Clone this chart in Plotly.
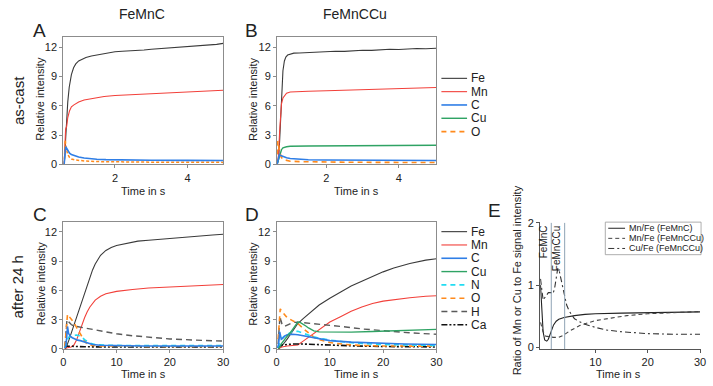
import plotly.graph_objects as go

W, H = 713, 386
def X(p): return p / W
def Y(p): return 1 - p / H

# ---------------- data ----------------
# Panel A: FeMnC as-cast
a_fe_t = [0.60,0.62,0.64,0.67,0.70,0.74,0.80,0.86,0.92,1.00,1.10,1.20,1.35,1.50,1.65,1.80,2.00,2.20,2.40,2.60,2.80,3.00,3.20,3.40,3.60,3.80,4.00,4.20,4.40,4.60,4.80,4.98]
a_fe   = [0.0,0.8,2.5,4.8,6.4,7.9,9.2,9.9,10.3,10.6,10.8,10.95,11.1,11.2,11.35,11.4,11.55,11.6,11.62,11.7,11.72,11.8,11.85,11.9,12.0,12.02,12.1,12.15,12.2,12.25,12.3,12.4]
a_mn_t = [0.60,0.62,0.64,0.67,0.70,0.75,0.80,0.87,0.95,1.00,1.15,1.30,1.45,1.70,2.00,2.50,3.00,3.50,4.00,4.50,4.98]
a_mn   = [0.0,1.5,3.6,3.9,4.8,5.5,5.9,6.1,6.3,6.4,6.6,6.7,6.8,6.95,7.05,7.15,7.2,7.3,7.4,7.5,7.6]
a_c_t  = [0.60,0.62,0.64,0.66,0.70,0.75,0.80,0.90,1.00,1.15,1.30,1.50,1.75,2.00,2.50,3.00,4.00,4.98]
a_c    = [0.0,1.2,1.8,1.7,1.4,1.15,1.0,0.85,0.75,0.65,0.58,0.52,0.48,0.46,0.44,0.42,0.41,0.40]
a_o_t  = [0.60,0.61,0.63,0.66,0.70,0.75,0.80,0.90,1.00,1.20,1.50,2.00,2.50,3.00,4.00,4.98]
a_o    = [0.0,1.5,2.5,1.6,1.0,0.7,0.55,0.45,0.4,0.33,0.28,0.25,0.23,0.22,0.21,0.2]

# Panel B: FeMnCCu as-cast
b_fe_t = [0.64,0.68,0.71,0.74,0.77,0.80,0.84,0.88,0.93,1.00,1.10,1.25,1.40,1.60,1.80,2.00,2.25,2.50,2.75,3.00,3.25,3.50,3.75,4.00,4.25,4.50,4.75,5.03]
b_fe   = [0.0,0.5,2.5,5.5,8.0,9.6,10.6,11.0,11.2,11.3,11.4,11.42,11.45,11.5,11.48,11.55,11.6,11.58,11.65,11.7,11.68,11.75,11.8,11.78,11.85,11.88,11.85,11.9]
b_mn_t = [0.64,0.68,0.71,0.73,0.76,0.80,0.85,0.90,1.00,1.20,1.50,2.00,2.50,3.00,3.50,4.00,4.50,5.03]
b_mn   = [0.0,1.0,3.5,5.2,6.2,6.8,7.1,7.3,7.42,7.48,7.5,7.55,7.6,7.68,7.72,7.78,7.82,7.88]
b_cu_t = [0.64,0.68,0.72,0.76,0.80,0.90,1.00,1.50,2.00,3.00,4.00,5.03]
b_cu   = [0.0,0.4,1.0,1.5,1.7,1.8,1.85,1.88,1.9,1.92,1.93,1.95]
b_c_t  = [0.64,0.67,0.70,0.74,0.80,0.90,1.00,1.20,1.50,2.00,3.00,4.00,5.03]
b_c    = [0.0,0.6,0.98,0.9,0.8,0.68,0.6,0.52,0.47,0.44,0.42,0.41,0.4]
b_o_t  = [0.64,0.66,0.68,0.71,0.75,0.80,0.90,1.00,1.30,1.70,2.50,3.50,5.03]
b_o    = [1.0,2.4,1.9,1.2,0.75,0.5,0.38,0.32,0.27,0.24,0.22,0.2,0.18]

# Panel C: FeMnC after 24 h
c_fe_t = [0.3,0.5,1.0,1.5,2.0,2.5,3.0,3.5,4.0,4.5,5.0,5.5,6.0,7.0,8.0,9.0,10,12,14,16,18,20,22,25,28,30]
c_fe   = [0.0,0.1,0.8,1.6,2.4,3.2,4.1,4.9,5.8,6.6,7.4,8.1,8.7,9.6,10.1,10.4,10.6,10.85,11.05,11.15,11.25,11.35,11.45,11.55,11.68,11.75]
c_mn_t = [0.3,0.5,1.0,1.5,2.0,2.5,3.0,3.5,4.0,4.5,5.0,6.0,7.0,8.0,10,13,16,20,25,30]
c_mn   = [0.05,0.1,0.15,0.2,0.4,0.9,1.7,2.5,3.2,3.8,4.3,5.0,5.4,5.65,5.9,6.1,6.25,6.35,6.5,6.6]
c_c_t  = [0.3,0.5,0.7,0.8,1.0,1.3,1.7,2.2,2.7,3.2,3.8,4.5,5.5,7,10,15,20,30]
c_c    = [0.1,0.3,1.5,2.3,1.6,1.3,1.15,1.0,0.9,0.85,0.75,0.6,0.45,0.38,0.33,0.3,0.3,0.3]
c_n_t  = [0.3,0.6,1.0,1.5,2.0,2.5,3.0,3.5,4.0,4.5,5.0,6.0,8.0,12,20,30]
c_n    = [0.1,0.6,1.2,1.35,1.4,1.42,1.35,1.2,0.95,0.75,0.6,0.45,0.38,0.35,0.35,0.35]
c_o_t  = [0.3,0.5,0.8,1.0,1.5,2.0,2.5,3.0,3.5,4.0,4.5,5.0,6.0,8.0,12,20,30]
c_o    = [0.2,2.0,3.55,3.4,3.1,2.7,2.2,1.7,1.2,0.8,0.5,0.4,0.32,0.28,0.27,0.25,0.25]
c_h_t  = [0.3,0.5,0.7,1.0,1.5,2.0,3.0,4.0,5.0,6.0,8.0,10,13,16,20,25,30]
c_h    = [0.2,1.5,3.0,2.8,2.5,2.35,2.25,2.2,2.1,1.95,1.75,1.55,1.35,1.2,1.02,0.9,0.8]
c_ca_t = [0.3,0.6,1.0,2.0,4.0,8.0,15,22,30]
c_ca   = [0.1,0.3,0.28,0.25,0.22,0.2,0.2,0.2,0.2]

# Panel D: FeMnCCu after 24 h
d_fe_t = [0.3,0.5,1.0,1.5,2.0,2.5,3.0,3.5,4.0,5.0,6.0,7.0,8.0,10,12,14,16,18,20,22,25,28,30]
d_fe   = [0.0,0.05,0.3,0.6,1.0,1.4,1.8,2.2,2.6,3.1,3.6,4.1,4.5,5.2,5.85,6.45,6.95,7.45,7.9,8.3,8.75,9.1,9.25]
d_mn_t = [0.3,0.5,1,2,3,4,5,6,7,8,10,12,14,16,18,20,22,25,28,30]
d_mn   = [0.05,0.1,0.2,0.3,0.33,0.4,0.8,1.2,1.6,2.0,2.75,3.3,3.85,4.3,4.65,4.9,5.05,5.25,5.4,5.45]
d_c_t  = [0.2,0.4,0.6,0.75,0.9,1.2,1.5,2.0,2.5,3.0,4.0,5.0,6.0,8.0,10,14,18,24,30]
d_c    = [0.1,0.5,1.75,1.3,1.0,1.1,1.3,1.45,1.5,1.5,1.45,1.35,1.25,1.0,0.85,0.7,0.6,0.5,0.45]
d_cu_t = [0.3,0.6,1.0,1.5,2.0,2.5,3.0,3.5,4.0,4.5,5.0,5.5,6.0,7.0,8.0,10,14,18,22,26,30]
d_cu   = [0.05,0.2,0.6,1.0,1.3,1.6,1.95,2.4,2.75,2.7,2.55,2.35,2.15,1.85,1.75,1.72,1.72,1.78,1.85,1.93,2.0]
d_n_t  = [0.3,0.6,1.0,1.5,2.0,2.5,3.0,4.0,5.0,6.0,7.0,8.0,10,13,16,20,25,30]
d_n    = [0.1,0.6,1.1,1.3,1.5,1.65,1.8,1.8,1.6,1.4,1.25,1.1,0.9,0.7,0.55,0.45,0.38,0.35]
d_o_t  = [0.3,0.5,0.7,1.0,1.5,2.0,3.0,4.0,5.0,6.0,7.0,8.0,10,13,16,20,30]
d_o    = [1.0,3.0,4.1,3.85,3.5,3.2,2.9,2.6,2.1,1.6,1.2,0.95,0.65,0.45,0.35,0.3,0.28]
d_h_t  = [0.3,0.5,0.65,0.8,1.0,1.5,2.0,3.0,4.0,6.0,8.0,10,13,16,20,25,30]
d_h    = [0.5,2.6,3.35,3.0,2.6,2.3,2.45,2.7,2.75,2.65,2.55,2.45,2.25,2.05,1.85,1.65,1.5]
d_ca_t = [0.3,0.6,1.0,2.0,3.0,5.0,7.0,10,15,20,25,30]
d_ca   = [0.1,0.3,0.4,0.45,0.5,0.5,0.45,0.38,0.3,0.25,0.22,0.2]

# Panel E: ratios
e_mnc_t = [-0.5,-0.3,0.0,0.3,0.7,1.0,1.5,2.0,2.5,3.0,4.0,5.0,6.0,8.0,10,15,20,25,30]
e_mnc   = [1.0,0.6,0.25,0.12,0.1,0.13,0.25,0.36,0.42,0.45,0.48,0.5,0.51,0.53,0.54,0.55,0.56,0.565,0.57]
e_mncu_t = [-0.5,0.0,0.5,1.0,2.0,3.0,4.0,5.0,6.0,7.0,8.0,10,13,16,20,25,30]
e_mncu   = [0.4,0.25,0.18,0.17,0.16,0.16,0.2,0.26,0.31,0.35,0.38,0.43,0.47,0.51,0.54,0.56,0.575]
e_cu_t = [-0.5,-0.2,0.0,0.5,1.0,1.5,1.9,2.2,2.5,2.8,3.1,3.5,4.0,4.5,5.0,6.0,7.0,8.0,10,12,15,20,25,30]
e_cu   = [1.1,0.85,0.76,0.82,0.88,0.88,0.86,0.95,1.1,1.27,1.22,1.08,0.88,0.68,0.58,0.46,0.41,0.37,0.32,0.28,0.25,0.22,0.21,0.21]
e_marker_t = [1.56, 4.12]
e_marker_lbl = ["FeMnC", "FeMnCCu"]

legend_top = ["Fe", "Mn", "C", "Cu", "O"]
legend_bot = ["Fe", "Mn", "C", "Cu", "N", "O", "H", "Ca"]

# ---------------- styles ----------------
STY = {
    "Fe": dict(color="#3a3a3a", width=1.1, dash="solid"),
    "Mn": dict(color="#f2403a", width=1.1, dash="solid"),
    "C":  dict(color="#2f7ee6", width=1.6, dash="solid"),
    "Cu": dict(color="#2fa364", width=1.4, dash="solid"),
    "N":  dict(color="#22dcf2", width=1.6, dash="5px,4px"),
    "O":  dict(color="#ff8a1c", width=1.6, dash="5px,4px"),
    "H":  dict(color="#5a5a5a", width=1.4, dash="6px,4px"),
    "Ca": dict(color="#111111", width=1.6, dash="6px,2px,2px,2px,2px,2px"),
}
STY_SMALL_O = dict(color="#ff8a1c", width=1.5, dash="3px,2px")

fig = go.Figure()
def add(t, v, name, ax, style=None):
    s = dict(style or STY[name])
    fig.add_trace(go.Scatter(x=t, y=v, mode="lines", name=name, line=s,
                             xaxis="x" + ax, yaxis="y" + ax, showlegend=False))

add(a_fe_t, a_fe, "Fe", "")
add(a_mn_t, a_mn, "Mn", "")
add(a_o_t, a_o, "O", "", STY_SMALL_O)
add(a_c_t, a_c, "C", "")

add(b_fe_t, b_fe, "Fe", "2")
add(b_mn_t, b_mn, "Mn", "2")
add(b_cu_t, b_cu, "Cu", "2")
add(b_o_t, b_o, "O", "2")
add(b_c_t, b_c, "C", "2")

add(c_fe_t, c_fe, "Fe", "3")
add(c_mn_t, c_mn, "Mn", "3")
add(c_h_t, c_h, "H", "3")
add(c_ca_t, c_ca, "Ca", "3")
add(c_o_t, c_o, "O", "3")
add(c_n_t, c_n, "N", "3")
add(c_c_t, c_c, "C", "3")

add(d_fe_t, d_fe, "Fe", "4")
add(d_mn_t, d_mn, "Mn", "4")
add(d_h_t, d_h, "H", "4")
add(d_ca_t, d_ca, "Ca", "4")
add(d_o_t, d_o, "O", "4")
add(d_n_t, d_n, "N", "4")
add(d_c_t, d_c, "C", "4")
add(d_cu_t, d_cu, "Cu", "4")

E_STY = [dict(color="#222", width=1.1, dash="solid"),
         dict(color="#444", width=1.1, dash="4px,3px"),
         dict(color="#333", width=1.1, dash="6px,3px,2px,3px")]
E_NAMES = ["Mn/Fe (FeMnC)", "Mn/Fe (FeMnCCu)", "Cu/Fe (FeMnCCu)"]
for (t, v), s, n in zip([(e_mnc_t, e_mnc), (e_mncu_t, e_mncu), (e_cu_t, e_cu)], E_STY, E_NAMES):
    fig.add_trace(go.Scatter(x=t, y=v, mode="lines", name=n, line=s,
                             xaxis="x5", yaxis="y5", showlegend=False))

FONT = "Liberation Sans, Arial, sans-serif"
TF = dict(family=FONT, size=11, color="#222")

def axpair(xd, yd, xr, yr, xt, yt, box=True, lc="#8c8c8c"):
    xa = dict(domain=xd, range=xr, tickvals=xt, showgrid=False, zeroline=False,
              showline=True, linecolor=lc, linewidth=1, mirror=box,
              ticks="outside", ticklen=3, tickcolor=lc, tickfont=TF)
    ya = dict(domain=yd, range=yr, tickvals=yt, showgrid=False, zeroline=False,
              showline=True, linecolor=lc, linewidth=1, mirror=box,
              ticks="outside", ticklen=3, tickcolor=lc, tickfont=TF)
    return xa, ya

top = [Y(164), Y(33)]
bot = [Y(354), Y(223)]
yt12 = [0, 3, 6, 9, 12]
xa1, ya1 = axpair([X(61), X(223)], top, [0.575, 4.98], [0, 13.05], [2, 4], yt12)
xa2, ya2 = axpair([X(277.5), X(439)], top, [0.636, 5.04], [0, 13.05], [2, 4], yt12)
xa3, ya3 = axpair([X(61), X(223)], bot, [0, 30], [0, 13.05], [0, 10, 20, 30], yt12)
xa4, ya4 = axpair([X(277), X(439)], bot, [0, 30], [0, 13.05], [0, 10, 20, 30], yt12)
xa5, ya5 = axpair([X(544), X(707)], [Y(354.3), Y(223)], [-0.57, 30.2], [-0.03, 2.02], [10, 20, 30], [0, 1, 2], box=False, lc="#555")
for i, (xa, ya) in enumerate([(xa1, ya1), (xa2, ya2), (xa3, ya3), (xa4, ya4), (xa5, ya5)]):
    sfx = "" if i == 0 else str(i + 1)
    xa["anchor"] = "y" + sfx
    ya["anchor"] = "x" + sfx

ann = []
def txt(x, y, s, size, angle=0, xanchor="center", yanchor="middle", color="#222"):
    ann.append(dict(x=X(x), y=Y(y), xref="paper", yref="paper", text=s, showarrow=False,
                    textangle=angle, xanchor=xanchor, yanchor=yanchor,
                    font=dict(family=FONT, size=size, color=color)))

txt(141, 9, "FeMnC", 14)
txt(357, 9, "FeMnCCu", 14)
txt(15, 98, "as-cast", 15, -90)
txt(15, 290, "after 24 h", 15, -90)
for L, (x, y) in zip("ABCDE", [(37, 26), (252, 26), (37, 216), (252, 216), (498, 212)]):
    txt(x, y, L, 19)
for xc in (38, 253):
    txt(xc, 97, "Relative intensity", 11, -90)
    txt(xc, 287, "Relative intensity", 11, -90)
for xc in (142, 358):
    txt(xc, 191, "Time in s", 11)
    txt(xc, 380, "Time in s", 11)
txt(623, 380, "Time in s", 11)
txt(521, 283, "Ratio of Mn or Cu to Fe signal intensity", 11, -90)

shapes = []
# legends for A/B and C/D
def legend(names, y0, step):
    for i, n in enumerate(names):
        yy = y0 + i * step
        s = STY[n]
        shapes.append(dict(type="line", xref="paper", yref="paper", x0=X(444), x1=X(470),
                           y0=Y(yy), y1=Y(yy), line=dict(color=s["color"], width=s["width"], dash=s["dash"])))
        txt(472, yy, n, 12, xanchor="left")
legend(legend_top, 75.5, 13.7)
legend(legend_bot, 233.3, 13.7)

# E legend box
shapes.append(dict(type="rect", xref="paper", yref="paper", x0=X(610), x1=X(707), y0=Y(257), y1=Y(223.5),
                   line=dict(color="#999", width=0.8), fillcolor="white", layer="below"))
for i, (n, s) in enumerate(zip(E_NAMES, E_STY)):
    yy = 229.8 + i * 10.4
    shapes.append(dict(type="line", xref="paper", yref="paper", x0=X(613), x1=X(630),
                       y0=Y(yy), y1=Y(yy), line=dict(color=s["color"], width=1, dash=s["dash"])))
    txt(632, yy, n, 9, xanchor="left")

# E marker lines
for t, lbl in zip(e_marker_t, e_marker_lbl):
    shapes.append(dict(type="line", xref="x5", yref="y5", x0=t, x1=t, y0=-0.03, y1=2.0,
                       line=dict(color="#8fa3b5", width=1)))
    ann.append(dict(x=t, y=1.99, xref="x5", yref="y5", text=lbl, showarrow=False, textangle=-90,
                    xanchor="right", yanchor="top", xshift=-0.5,
                    font=dict(family=FONT, size=10, color="#222")))

fig.update_layout(
    width=W, height=H, margin=dict(l=0, r=0, t=0, b=0),
    paper_bgcolor="white", plot_bgcolor="rgba(0,0,0,0)",
    xaxis=xa1, yaxis=ya1, xaxis2=xa2, yaxis2=ya2, xaxis3=xa3, yaxis3=ya3,
    xaxis4=xa4, yaxis4=ya4, xaxis5=xa5, yaxis5=ya5,
    annotations=ann, shapes=shapes, showlegend=False,
)
fig.write_html("out.html")
